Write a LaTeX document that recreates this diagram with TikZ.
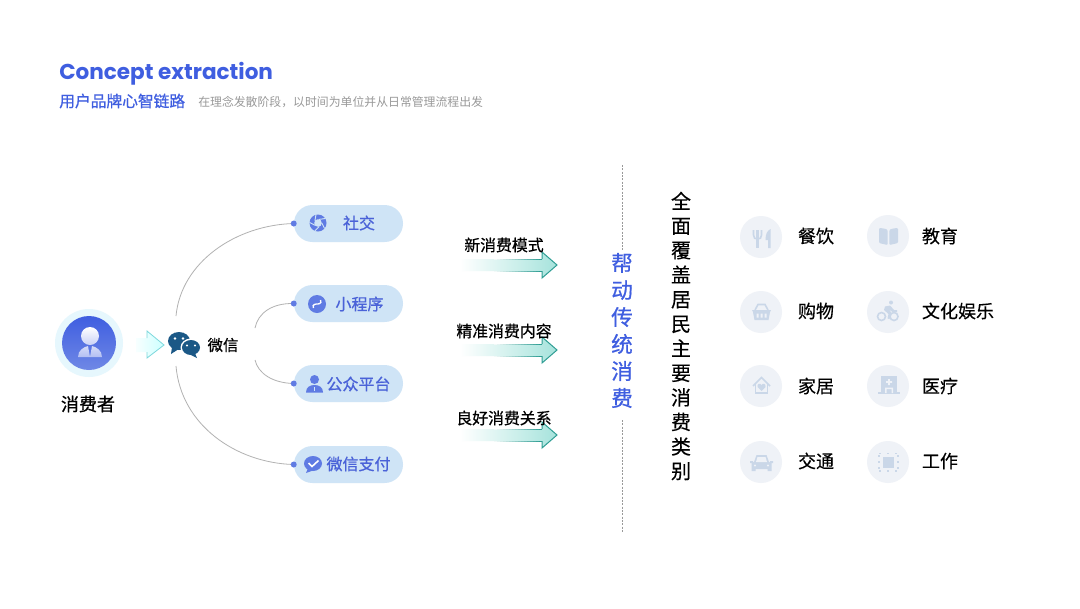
\documentclass[tikz,border=0pt]{standalone}
\usepackage{fontspec}
\setmainfont{Noto Sans CJK SC}
\newfontfamily\cjkr[FakeBold=0.25]{Noto Sans CJK SC}
\newfontfamily\cjkm[FakeBold=0.7]{Noto Sans CJK SC}
\newfontfamily\cjkn{Noto Sans CJK SC}
\newfontfamily\titlefont{Poppins}
\usetikzlibrary{calc}
\definecolor{brand}{HTML}{3F5EE0}
\definecolor{pillfill}{HTML}{CFE4F6}
\definecolor{pillink}{HTML}{5F7BE3}
\definecolor{pilltext}{HTML}{4A62D8}
\definecolor{wx}{HTML}{1B5886}
\definecolor{iconbg}{HTML}{EFF2F7}
\definecolor{iconfg}{HTML}{CAD7E8}
\definecolor{teald}{HTML}{2F9E94}
\definecolor{teall}{HTML}{A6E3DC}
\definecolor{cyanl}{HTML}{7DD8DC}
\tikzset{
  x=0.75pt,y=-0.75pt,
  pill/.style={fill=pillfill,rounded corners=13.8pt,minimum width=81.75pt,minimum height=27.75pt,inner sep=0pt},
  pilllabel/.style={text=pilltext,inner sep=0pt,font=\cjkm\fontsize{12}{14}\selectfont},
  armlabel/.style={text=black,inner sep=0pt,font=\cjkm\fontsize{11.9}{14}\selectfont},
  catlabel/.style={text=black,inner sep=0pt,font=\cjkr\fontsize{13.5}{16}\selectfont},
  iconcircle/.style={fill=iconbg,circle,minimum size=31.5pt,inner sep=0pt},
  arc/.style={draw=black!30,line width=0.6pt},
  anchordot/.style={fill=pillink,circle,minimum size=4.5pt,inner sep=0pt},
  icon/.style={fill=iconfg,draw=none},
  iconline/.style={draw=iconfg,line width=1.2pt,fill=none},
  vert/.style={align=center,inner sep=0pt},
}
\newcommand{\bigarrow}[1]{%
  \begin{scope}[shift={(0,#1)}]
    \shade[left color=white,right color=teall] (460,-6) -- (542,-6) -- (542,-13) -- (557,0) -- (542,13) -- (542,6) -- (460,6) -- cycle;
    \foreach \k in {0,...,15}{
      \pgfmathsetmacro{\xa}{494+3*\k}
      \pgfmathsetmacro{\xb}{\xa+3.2}
      \pgfmathsetmacro{\pc}{6.25*(\k+1)}
      \draw[teald!\pc!white,line width=0.7pt] (\xa,-6) -- (\xb,-6) (\xa,6) -- (\xb,6);
    }
    \draw[teald,line width=0.75pt,line join=miter] (542,-6) -- (542,-13) -- (557,0) -- (542,13) -- (542,6);
  \end{scope}}
\begin{document}
\begin{tikzpicture}
\useasboundingbox (0,0) rectangle (1080,608);
\fill[white] (0,0) rectangle (1080,608);
% header
\node[anchor=west,inner sep=0pt,text=brand,font=\titlefont\bfseries\fontsize{16.15}{20}\selectfont] (title) at (59,74) {Concept extraction};
\node[anchor=west,inner sep=0pt,text=brand,font=\cjkm\fontsize{11.8}{14}\selectfont] (sub) at (59,101) {用户品牌心智链路};
\node[anchor=west,inner sep=0pt,text=black!40,font=\cjkn\fontsize{8.9}{11}\selectfont] (subnote) at (198,102.5) {在理念发散阶段，以时间为单位并从日常管理流程出发};
% consumer
\node[circle,fill=cyan!10,minimum size=51pt,inner sep=0pt] (halo) at (89,343) {};
\shade[top color=brand,bottom color=pillink!90] (89,343) circle (27);
\shade[top color=white,bottom color=white!72!brand] (90,336) circle (9);
\shade[top color=white!78!brand,bottom color=white!60!brand] (78,357) .. controls (78,350) and (84,347) .. (88,346) -- (90,357) -- (92,346) .. controls (96,347) and (102,350) .. (102,357) -- cycle;
\node[inner sep=0pt,text=black,font=\cjkm\fontsize{13.5}{16}\selectfont] (consumer) at (88,404) {消费者};
% small arrow
\shade[left color=cyan!3,right color=cyan!20] (136,338) -- (147,338) -- (147,331) -- (164,345) -- (147,358) -- (147,352) -- (136,352) -- cycle;
\draw[cyanl,line width=0.6pt] (147,338) -- (147,331) -- (164,345) -- (147,358) -- (147,352);
% wechat icon
\fill[wx] (179,341) ellipse (11 and 9);
\fill[wx] (172,347) -- (171,354) -- (178,349.5) -- cycle;
\fill[white] (191,347.5) ellipse (10.5 and 9);
\fill[wx] (191,347.5) ellipse (9 and 7.5);
\fill[wx] (195,353) -- (197,358) -- (190,354.5) -- cycle;
\fill[white] (175,338.5) circle (1.4) (183,338.5) circle (1.4) (187,345.5) circle (1.2) (195,345.5) circle (1.2);
\node[inner sep=0pt,text=black,font=\cjkm\fontsize{11.5}{14}\selectfont] (wechat) at (223,345) {微信};
% pills
\node[pill] (p1) at (348.5,223.5) {};
\node[pill] (p2) at (348.5,303.5) {};
\node[pill] (p3) at (348.5,383.5) {};
\node[pill] (p4) at (348.5,464.5) {};
\node[pilllabel] (l1) at (359,223) {社交};
\node[pilllabel] (l2) at (359.5,304) {小程序};
\node[pilllabel] (l3) at (358.5,384) {公众平台};
\node[pilllabel] (l4) at (358.5,464) {微信支付};
\coordinate (a1) at (176,316);
\coordinate (a2) at (255,328);
\coordinate (a3) at (255,360);
\coordinate (a4) at (176,366);
\draw[arc] (a1) .. controls (181,262) and (236,225) .. (p1.west);
\draw[arc] (a2) .. controls (258,313) and (272,303) .. (p2.west);
\draw[arc] (a3) .. controls (258,373) and (272,383) .. (p3.west);
\draw[arc] (a4) .. controls (181,425) and (236,463) .. (p4.west);
\node[anchordot] (d1) at (p1.west) {};
\node[anchordot] (d2) at (p2.west) {};
\node[anchordot] (d3) at (p3.west) {};
\node[anchordot] (d4) at (p4.west) {};
% pill icons
\fill[pillink] (318,223) circle (8.5);
\fill[pillfill] (318,223) circle (3.8);
\foreach \a in {0,72,...,288}{\draw[pillfill,line width=0.7pt] ($(318,223)+(\a:3.8)$) -- ($(318,223)+(\a+40:8.5)$);}
\fill[pillink] (317,304) circle (9);
\draw[white,line width=1pt] (313.5,308) .. controls (311.5,304) and (316.5,304) .. (317,304) .. controls (317.5,304) and (322.5,304) .. (320.5,300);
\fill[pillink] (314.5,379.5) circle (4.5);
\fill[pillink] (306,392.5) .. controls (306,387) and (310,385) .. (314.5,385) .. controls (319,385) and (323,387) .. (323,392.5) -- cycle;
\fill[pillfill] (313.8,386.5) rectangle (315.2,390.5);
\fill[pillink] (313,463.5) ellipse (9 and 7.5);
\fill[pillink] (308,468) -- (306,473) -- (313,470.5) -- cycle;
\draw[white,line width=1.2pt] (308.5,463) -- (312,466.5) -- (318.5,460.5);
% arrows
\bigarrow{265}
\bigarrow{350}
\bigarrow{435}
\node[armlabel] (t1) at (504,245) {新消费模式};
\node[armlabel] (t2) at (504,331) {精准消费内容};
\node[armlabel] (t3) at (504,418) {良好消费关系};
% divider
\coordinate (v1) at (622.5,165);
\coordinate (v2) at (622.5,250);
\coordinate (v3) at (622.5,420);
\coordinate (v4) at (622.5,532);
\draw[black!40,line width=0.5pt,dash pattern=on 1.5pt off 1pt] (v1) -- (v2) (v3) -- (v4);
\node[vert,text=brand,font=\cjkm\fontsize{16.2}{20.25}\selectfont] (drive) at (622,330.5) {帮\\动\\传\\统\\消\\费};
\node[vert,text=black,font=\cjkr\fontsize{15}{18.4}\selectfont] (cover) at (681,336) {全\\面\\覆\\盖\\居\\民\\主\\要\\消\\费\\类\\别};
% category circles
\node[iconcircle] (c1) at (761,237) {};
\node[iconcircle] (c2) at (888,236) {};
\node[iconcircle] (c3) at (761,312) {};
\node[iconcircle] (c4) at (888,312) {};
\node[iconcircle] (c5) at (761,386) {};
\node[iconcircle] (c6) at (888,386) {};
\node[iconcircle] (c7) at (761,462) {};
\node[iconcircle] (c8) at (888,462) {};
\node[catlabel] (k1) at (816,236) {餐饮};
\node[catlabel] (k2) at (940,236) {教育};
\node[catlabel] (k3) at (816,311) {购物};
\node[catlabel] (k4) at (958,311) {文化娱乐};
\node[catlabel] (k5) at (816,386) {家居};
\node[catlabel] (k6) at (940,386) {医疗};
\node[catlabel] (k7) at (816,461) {交通};
\node[catlabel] (k8) at (940,461) {工作};
% fork and knife
\draw[iconline] (753.5,230) -- (753.5,235) .. controls (753.5,238) and (755,239) .. (757.5,239) .. controls (760,239) and (761.5,238) .. (761.5,235) -- (761.5,230);
\draw[iconline,line width=1.6pt] (757.5,230) -- (757.5,248);
\fill[icon] (765.5,240) .. controls (765.5,234) and (767,231) .. (770.5,229) -- (770.5,248) -- (768,248) -- (768,240) -- cycle;
% book
\fill[icon,rounded corners=0.8pt] (879,228) .. controls (882,228) and (886,229) .. (887.7,230) -- (887.7,245) -- (879,243) -- cycle;
\fill[icon,rounded corners=0.8pt] (898,228) .. controls (895,228) and (891,229) .. (889.3,230) -- (889.3,245) -- (898,243) -- cycle;
% basket
\fill[icon] (752,310) -- (771,310) -- (770,312) -- (768.5,320) -- (754.5,320) -- (753,312) -- cycle;
\draw[iconline] (755,310) -- (758,304.5) -- (765,304.5) -- (768,310);
\fill[iconbg] (756.5,313.5) rectangle (758.5,317.5) (760.5,313.5) rectangle (762.5,317.5) (764.5,313.5) rectangle (766.5,317.5);
% bike
\draw[iconline] (881.5,316.5) circle (4) (894,316.5) circle (4);
\fill[icon] (891,302.5) circle (2);
\fill[icon] (885,306.5) -- (890,305.5) -- (894,310) -- (897,310) -- (897,312) -- (892.5,312) -- (889,309.5) -- (891.5,313) -- (889.5,319) -- (887.5,318.5) -- (888.5,314) -- (884,310) -- cycle;
% house
\draw[iconline] (753,386) -- (761.5,377.5) -- (770,386);
\draw[iconline] (755.5,384) -- (755.5,393) -- (767.5,393) -- (767.5,384);
\fill[icon] (761.5,391) -- (757.5,387) .. controls (756.5,384) and (760.5,382.5) .. (761.5,385) .. controls (762.5,382.5) and (766.5,384) .. (765.5,387) -- cycle;
% hospital
\fill[icon] (881,376) rectangle (897,393);
\fill[icon] (878,392) rectangle (900,394);
\fill[iconbg] (888.2,379) rectangle (889.8,385) (886,381.2) rectangle (892,382.8);
\fill[iconbg] (885,389) rectangle (886.5,393) (891.5,389) rectangle (893,393) (885,387.5) rectangle (893,389);
% car
\fill[icon] (754,462) -- (756.5,455) -- (766.5,455) -- (769,462) -- (771.5,463) -- (771.5,471) -- (767.5,471) -- (767.5,469) -- (755.5,469) -- (755.5,471) -- (751.5,471) -- (751.5,463) -- cycle;
\fill[icon] (750,461) rectangle (753,463) (770,461) rectangle (773,463);
\fill[iconbg] (757.5,457) -- (765.5,457) -- (767,462) -- (756,462) -- cycle;
\fill[iconbg] (755,465.5) circle (1.1) (768,465.5) circle (1.1);
% work
\fill[icon] (882.5,456.5) rectangle (894,467.5);
\foreach \p in {880,888,896}{\fill[icon] (\p-0.7,452.5) rectangle (\p+0.7,454); \fill[icon] (\p-0.7,470) rectangle (\p+0.7,471.5);}
\foreach \p in {456,462,468}{\fill[icon] (878,\p-0.7) rectangle (879.5,\p+0.7); \fill[icon] (897,\p-0.7) rectangle (898.5,\p+0.7);}
\end{tikzpicture}
\end{document}
